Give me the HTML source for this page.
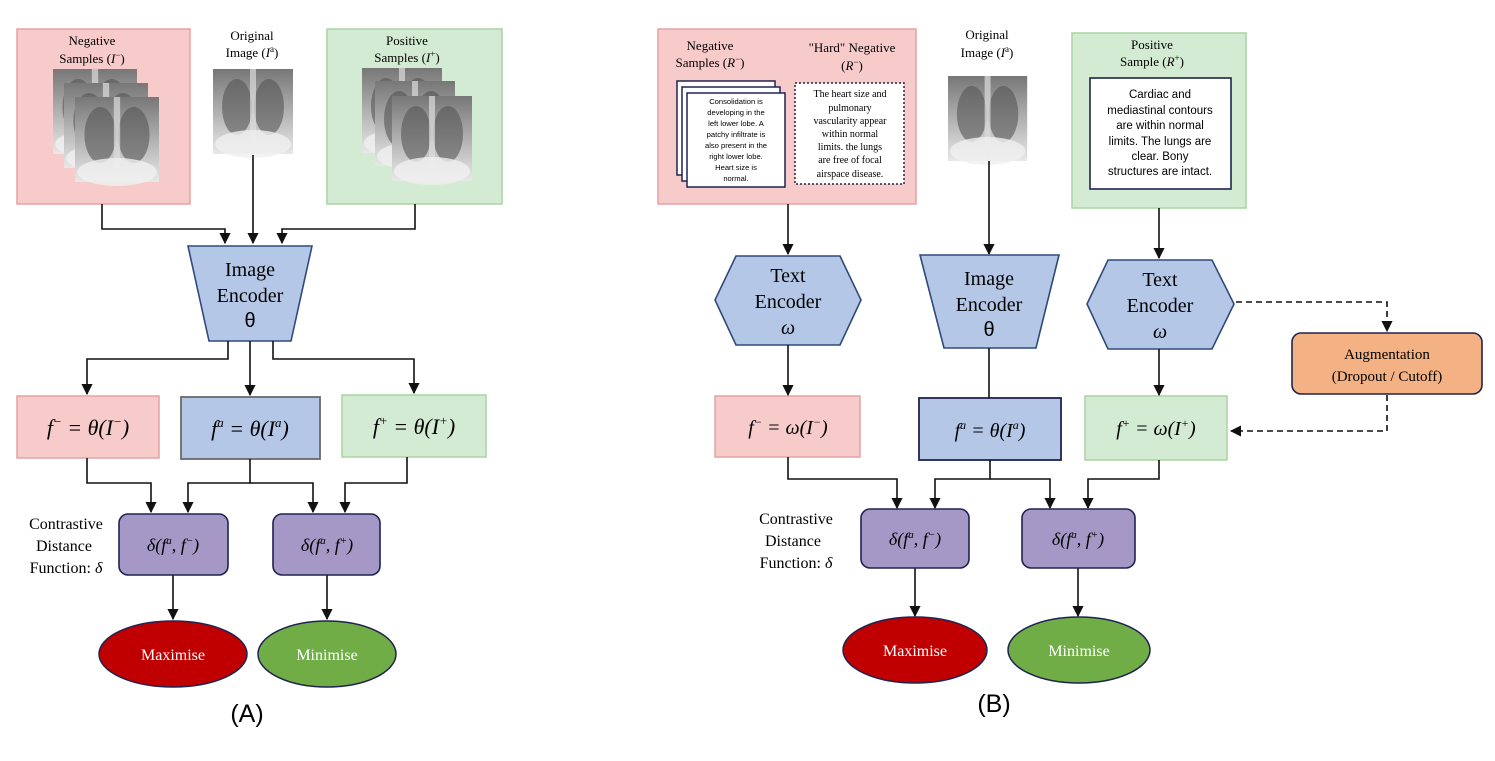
<!DOCTYPE html>
<html><head><meta charset="utf-8"><style>
html,body{margin:0;padding:0;background:#fff;}
svg{display:block;}
.s{font-family:"Liberation Serif",serif;}
.a{font-family:"Liberation Sans",sans-serif;}
.m{font-family:"Liberation Serif",serif;font-style:italic;}
</style></head><body>
<svg width="1495" height="761" viewBox="0 0 1495 761" xmlns="http://www.w3.org/2000/svg">
<defs>
<marker id="ar" viewBox="0 0 10 10" refX="9" refY="5" markerWidth="7" markerHeight="7" orient="auto"><path d="M0,0L10,5L0,10z" fill="#111"/></marker>
<linearGradient id="xr" x1="0" y1="0" x2="0" y2="1"><stop offset="0" stop-color="#777"/><stop offset="0.5" stop-color="#b0b0b0"/><stop offset="1" stop-color="#e8e8e8"/></linearGradient>
<g id="xray">
<rect x="0" y="0" width="80" height="85" fill="url(#xr)"/>
<ellipse cx="24" cy="38" rx="15" ry="28" fill="#555" opacity="0.6"/>
<ellipse cx="56" cy="38" rx="15" ry="28" fill="#555" opacity="0.6"/>
<rect x="37" y="0" width="6" height="85" fill="#ddd" opacity="0.7"/>
<ellipse cx="40" cy="75" rx="38" ry="14" fill="#f0f0f0" opacity="0.8"/>
</g>
</defs>

<!-- ========== PANEL A ========== -->
<rect x="17" y="29" width="173" height="175" fill="#f8cbcb" stroke="#e3a3a3" stroke-width="1.5"/>
<text class="s" font-size="13" text-anchor="middle" x="92" y="45">Negative</text>
<text class="s" font-size="13" text-anchor="middle" x="92" y="63">Samples (<tspan font-style="italic">I</tspan><tspan font-size="9" dy="-5">−</tspan><tspan dy="5">)</tspan></text>
<use href="#xray" transform="translate(53,69) scale(1.05,1.0)"/>
<use href="#xray" transform="translate(64,83) scale(1.05,1.0)"/>
<use href="#xray" transform="translate(75,97) scale(1.05,1.0)"/>
<text class="s" font-size="13" text-anchor="middle" x="252" y="40">Original</text>
<text class="s" font-size="13" text-anchor="middle" x="252" y="57">Image (<tspan font-style="italic">I</tspan><tspan font-size="9" dy="-5">a</tspan><tspan dy="5">)</tspan></text>
<use href="#xray" transform="translate(213,69) scale(1.0,1.0)"/>
<rect x="327" y="29" width="175" height="175" fill="#d4ebd3" stroke="#a9d4a2" stroke-width="1.5"/>
<text class="s" font-size="13" text-anchor="middle" x="407" y="45">Positive</text>
<text class="s" font-size="13" text-anchor="middle" x="407" y="62">Samples (<tspan font-style="italic">I</tspan><tspan font-size="9" dy="-5">+</tspan><tspan dy="5">)</tspan></text>
<use href="#xray" transform="translate(362,68) scale(1.0,1.0)"/>
<use href="#xray" transform="translate(375,81) scale(1.0,1.0)"/>
<use href="#xray" transform="translate(392,96) scale(1.0,1.0)"/>

<g stroke="#111" stroke-width="1.6" fill="none">
<path d="M102,204V229H225V243" marker-end="url(#ar)"/>
<path d="M253,155V243" marker-end="url(#ar)"/>
<path d="M415,204V229H282V243" marker-end="url(#ar)"/>
</g>
<polygon points="188,246 312,246 291,341 209,341" fill="#b4c7e7" stroke="#2f4a7a" stroke-width="1.6"/>
<text class="s" font-size="20" text-anchor="middle" x="250" y="276">Image</text>
<text class="s" font-size="20" text-anchor="middle" x="250" y="302">Encoder</text>
<text class="a" font-size="20" text-anchor="middle" x="250" y="327">θ</text>
<g stroke="#111" stroke-width="1.6" fill="none">
<path d="M228,341V359H87V394" marker-end="url(#ar)"/>
<path d="M250,341V395" marker-end="url(#ar)"/>
<path d="M273,341V359H414V393" marker-end="url(#ar)"/>
</g>
<rect x="17" y="396" width="142" height="62" fill="#f8cbcb" stroke="#e3a3a3" stroke-width="1.5"/>
<text class="m" font-size="22" text-anchor="middle" x="88" y="435">f<tspan font-size="13" dy="-9">−</tspan><tspan dy="9"> =  θ(I</tspan><tspan font-size="13" dy="-9">−</tspan><tspan dy="9">)</tspan></text>
<rect x="181" y="397" width="139" height="62" fill="#b4c7e7" stroke="#6a6a6a" stroke-width="1.8"/>
<text class="m" font-size="22" text-anchor="middle" x="250" y="436">f<tspan font-size="13" dy="-9">a</tspan><tspan dy="9"> =  θ(I</tspan><tspan font-size="13" dy="-9">a</tspan><tspan dy="9">)</tspan></text>
<rect x="342" y="395" width="144" height="62" fill="#d4ebd3" stroke="#a9d4a2" stroke-width="1.5"/>
<text class="m" font-size="22" text-anchor="middle" x="414" y="434">f<tspan font-size="13" dy="-9">+</tspan><tspan dy="9"> =  θ(I</tspan><tspan font-size="13" dy="-9">+</tspan><tspan dy="9">)</tspan></text>
<g stroke="#111" stroke-width="1.6" fill="none">
<path d="M87,458V483H151V512" marker-end="url(#ar)"/>
<path d="M250,459V483H188V512" marker-end="url(#ar)"/>
<path d="M250,483H313V512" marker-end="url(#ar)"/>
<path d="M407,457V483H345V512" marker-end="url(#ar)"/>
<path d="M173,575V619" marker-end="url(#ar)"/>
<path d="M327,575V619" marker-end="url(#ar)"/>
</g>
<text class="s" font-size="16" text-anchor="middle" x="66" y="529">Contrastive</text>
<text class="s" font-size="16" text-anchor="middle" x="64" y="551">Distance</text>
<text class="s" font-size="16" text-anchor="middle" x="66" y="573">Function: <tspan font-style="italic">δ</tspan></text>
<rect x="119" y="514" width="109" height="61" rx="9" fill="#a698c6" stroke="#1f2350" stroke-width="1.6"/>
<text class="m" font-size="18" text-anchor="middle" x="173" y="551">δ(f<tspan font-size="11" dy="-7">a</tspan><tspan dy="7">, f</tspan><tspan font-size="11" dy="-7">−</tspan><tspan dy="7">)</tspan></text>
<rect x="273" y="514" width="107" height="61" rx="9" fill="#a698c6" stroke="#1f2350" stroke-width="1.6"/>
<text class="m" font-size="18" text-anchor="middle" x="327" y="551">δ(f<tspan font-size="11" dy="-7">a</tspan><tspan dy="7">, f</tspan><tspan font-size="11" dy="-7">+</tspan><tspan dy="7">)</tspan></text>
<ellipse cx="173" cy="654" rx="74" ry="33" fill="#c00000" stroke="#1f2350" stroke-width="1.5"/>
<text class="s" font-size="16" fill="#fff" text-anchor="middle" x="173" y="660">Maximise</text>
<ellipse cx="327" cy="654" rx="69" ry="33" fill="#70ad47" stroke="#1f2350" stroke-width="1.5"/>
<text class="s" font-size="16" fill="#fff" text-anchor="middle" x="327" y="660">Minimise</text>
<text class="a" font-size="25" text-anchor="middle" x="247" y="722">(A)</text>

<!-- ========== PANEL B ========== -->
<rect x="658" y="29" width="258" height="175" fill="#f8cbcb" stroke="#e3a3a3" stroke-width="1.5"/>
<text class="s" font-size="13" text-anchor="middle" x="710" y="50">Negative</text>
<text class="s" font-size="13" text-anchor="middle" x="710" y="67">Samples (<tspan font-style="italic">R</tspan><tspan font-size="9" dy="-5">−</tspan><tspan dy="5">)</tspan></text>
<text class="s" font-size="13" text-anchor="middle" x="852" y="52">"Hard" Negative</text>
<text class="s" font-size="13" text-anchor="middle" x="852" y="70">(<tspan font-style="italic">R</tspan><tspan font-size="9" dy="-5">−</tspan><tspan dy="5">)</tspan></text>
<rect x="677" y="81" width="98" height="94" fill="#fff" stroke="#1f2350" stroke-width="1.5"/>
<rect x="682" y="87" width="98" height="94" fill="#fff" stroke="#1f2350" stroke-width="1.5"/>
<rect x="687" y="93" width="98" height="94" fill="#fff" stroke="#1f2350" stroke-width="1.5"/>
<g class="a" font-size="7.6" text-anchor="middle">
<text x="736" y="104">Consolidation is</text>
<text x="736" y="115">developing in the</text>
<text x="736" y="126">left lower lobe. A</text>
<text x="736" y="137">patchy infiltrate is</text>
<text x="736" y="148">also present in the</text>
<text x="736" y="159">right lower lobe.</text>
<text x="736" y="170">Heart size is</text>
<text x="736" y="181">normal.</text>
</g>
<rect x="795" y="83" width="109" height="101" fill="#fff" stroke="#1f2350" stroke-width="1.5" stroke-dasharray="2,2"/>
<g class="s" font-size="10" text-anchor="middle">
<text x="850" y="97">The heart size and</text>
<text x="850" y="111">pulmonary</text>
<text x="850" y="124">vascularity appear</text>
<text x="850" y="137">within normal</text>
<text x="850" y="150">limits. the lungs</text>
<text x="850" y="163">are free of focal</text>
<text x="850" y="177">airspace disease.</text>
</g>
<text class="s" font-size="13" text-anchor="middle" x="987" y="39">Original</text>
<text class="s" font-size="13" text-anchor="middle" x="987" y="57">Image (<tspan font-style="italic">I</tspan><tspan font-size="9" dy="-5">a</tspan><tspan dy="5">)</tspan></text>
<use href="#xray" transform="translate(948,76) scale(0.99,1.0)"/>
<rect x="1072" y="33" width="174" height="175" fill="#d4ebd3" stroke="#a9d4a2" stroke-width="1.5"/>
<text class="s" font-size="13" text-anchor="middle" x="1152" y="49">Positive</text>
<text class="s" font-size="13" text-anchor="middle" x="1152" y="66">Sample (<tspan font-style="italic">R</tspan><tspan font-size="9" dy="-5">+</tspan><tspan dy="5">)</tspan></text>
<rect x="1090" y="78" width="141" height="111" fill="#fff" stroke="#1f2350" stroke-width="1.6"/>
<g class="a" font-size="11.5" text-anchor="middle">
<text x="1160" y="98">Cardiac and</text>
<text x="1160" y="114">mediastinal contours</text>
<text x="1160" y="129">are within normal</text>
<text x="1160" y="145">limits. The lungs are</text>
<text x="1160" y="160">clear. Bony</text>
<text x="1160" y="175">structures are intact.</text>
</g>
<g stroke="#111" stroke-width="1.6" fill="none">
<path d="M788,204V254" marker-end="url(#ar)"/>
<path d="M989,161V254" marker-end="url(#ar)"/>
<path d="M1159,208V258" marker-end="url(#ar)"/>
</g>
<polygon points="736,256 840,256 861,300 840,345 736,345 715,300" fill="#b4c7e7" stroke="#2f4a7a" stroke-width="1.6"/>
<text class="s" font-size="20" text-anchor="middle" x="788" y="282">Text</text>
<text class="s" font-size="20" text-anchor="middle" x="788" y="308">Encoder</text>
<text class="m" font-size="20" text-anchor="middle" x="788" y="334">ω</text>
<polygon points="920,255 1059,255 1036,348 944,348" fill="#b4c7e7" stroke="#2f4a7a" stroke-width="1.6"/>
<text class="s" font-size="20" text-anchor="middle" x="989" y="285">Image</text>
<text class="s" font-size="20" text-anchor="middle" x="989" y="311">Encoder</text>
<text class="a" font-size="20" text-anchor="middle" x="989" y="336">θ</text>
<polygon points="1108,260 1212,260 1234,304 1212,349 1108,349 1087,304" fill="#b4c7e7" stroke="#2f4a7a" stroke-width="1.6"/>
<text class="s" font-size="20" text-anchor="middle" x="1160" y="286">Text</text>
<text class="s" font-size="20" text-anchor="middle" x="1160" y="312">Encoder</text>
<text class="m" font-size="20" text-anchor="middle" x="1160" y="338">ω</text>
<rect x="1292" y="333" width="190" height="61" rx="9" fill="#f4b183" stroke="#1f2350" stroke-width="1.6"/>
<text class="s" font-size="15" text-anchor="middle" x="1387" y="359">Augmentation</text>
<text class="s" font-size="15" text-anchor="middle" x="1387" y="381">(Dropout / Cutoff)</text>
<rect x="715" y="396" width="145" height="61" fill="#f8cbcb" stroke="#e3a3a3" stroke-width="1.5"/>
<text class="m" font-size="20" text-anchor="middle" x="788" y="434">f<tspan font-size="12" dy="-8">−</tspan><tspan dy="8"> = ω(I</tspan><tspan font-size="12" dy="-8">−</tspan><tspan dy="8">)</tspan></text>
<rect x="919" y="398" width="142" height="62" fill="#b4c7e7" stroke="#1f2350" stroke-width="1.8"/>
<text class="m" font-size="20" text-anchor="middle" x="990" y="437">f<tspan font-size="12" dy="-8">a</tspan><tspan dy="8"> =  θ(I</tspan><tspan font-size="12" dy="-8">a</tspan><tspan dy="8">)</tspan></text>
<rect x="1085" y="396" width="142" height="64" fill="#d4ebd3" stroke="#a9d4a2" stroke-width="1.5"/>
<text class="m" font-size="20" text-anchor="middle" x="1156" y="435">f<tspan font-size="12" dy="-8">+</tspan><tspan dy="8"> = ω(I</tspan><tspan font-size="12" dy="-8">+</tspan><tspan dy="8">)</tspan></text>
<g stroke="#111" stroke-width="1.6" fill="none">
<path d="M1236,302H1387V331" stroke-dasharray="6,4" marker-end="url(#ar)"/>
<path d="M1387,395V431H1231" stroke-dasharray="6,4" marker-end="url(#ar)"/>
<path d="M788,345V395" marker-end="url(#ar)"/>
<path d="M989,348V398"/>
<path d="M1159,349V395" marker-end="url(#ar)"/>
<path d="M788,457V479H897V508" marker-end="url(#ar)"/>
<path d="M990,460V479H935V508" marker-end="url(#ar)"/>
<path d="M990,479H1050V508" marker-end="url(#ar)"/>
<path d="M1159,460V479H1088V508" marker-end="url(#ar)"/>
<path d="M915,568V616" marker-end="url(#ar)"/>
<path d="M1078,568V616" marker-end="url(#ar)"/>
</g>
<text class="s" font-size="16" text-anchor="middle" x="796" y="524">Contrastive</text>
<text class="s" font-size="16" text-anchor="middle" x="793" y="546">Distance</text>
<text class="s" font-size="16" text-anchor="middle" x="796" y="568">Function: <tspan font-style="italic">δ</tspan></text>
<rect x="861" y="509" width="108" height="59" rx="9" fill="#a698c6" stroke="#1f2350" stroke-width="1.6"/>
<text class="m" font-size="18" text-anchor="middle" x="915" y="545">δ(f<tspan font-size="11" dy="-7">a</tspan><tspan dy="7">, f</tspan><tspan font-size="11" dy="-7">−</tspan><tspan dy="7">)</tspan></text>
<rect x="1022" y="509" width="113" height="59" rx="9" fill="#a698c6" stroke="#1f2350" stroke-width="1.6"/>
<text class="m" font-size="18" text-anchor="middle" x="1078" y="545">δ(f<tspan font-size="11" dy="-7">a</tspan><tspan dy="7">, f</tspan><tspan font-size="11" dy="-7">+</tspan><tspan dy="7">)</tspan></text>
<ellipse cx="915" cy="650" rx="72" ry="33" fill="#c00000" stroke="#1f2350" stroke-width="1.5"/>
<text class="s" font-size="16" fill="#fff" text-anchor="middle" x="915" y="656">Maximise</text>
<ellipse cx="1079" cy="650" rx="71" ry="33" fill="#70ad47" stroke="#1f2350" stroke-width="1.5"/>
<text class="s" font-size="16" fill="#fff" text-anchor="middle" x="1079" y="656">Minimise</text>
<text class="a" font-size="25" text-anchor="middle" x="994" y="712">(B)</text>
</svg>
</body></html>
